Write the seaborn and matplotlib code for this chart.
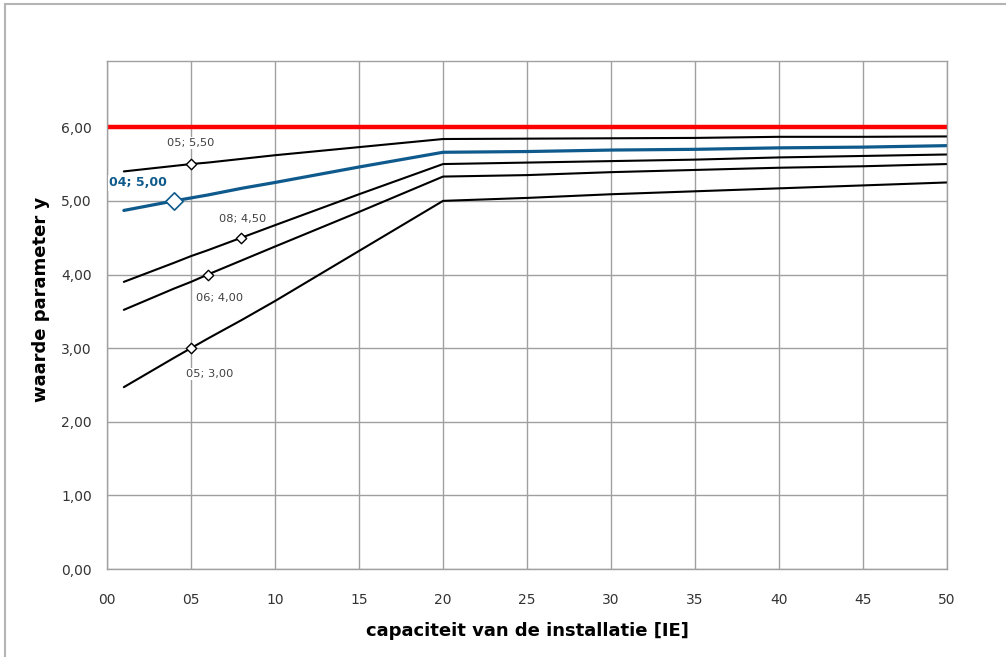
import pandas as pd
import matplotlib
matplotlib.use("Agg")
import matplotlib.pyplot as plt
import seaborn as sns
from matplotlib.lines import Line2D

# capaciteit [IE]
x_vals = [1, 4, 5, 6, 8, 10, 15, 20, 25, 30, 35, 40, 45, 50]

curve_a = [5.40, 5.475, 5.50, 5.52, 5.57, 5.62, 5.73, 5.84, 5.845, 5.85, 5.855, 5.87, 5.87, 5.875]
curve_blue = [4.87, 5.00, 5.04, 5.08, 5.17, 5.25, 5.46, 5.66, 5.67, 5.69, 5.70, 5.72, 5.73, 5.75]
curve_c = [3.90, 4.16, 4.25, 4.33, 4.50, 4.67, 5.09, 5.50, 5.52, 5.54, 5.56, 5.59, 5.61, 5.63]
curve_d = [3.52, 3.81, 3.90, 4.00, 4.19, 4.38, 4.85, 5.33, 5.35, 5.39, 5.42, 5.45, 5.47, 5.50]
curve_e = [2.47, 2.87, 3.00, 3.13, 3.38, 3.64, 4.32, 5.00, 5.04, 5.09, 5.13, 5.17, 5.21, 5.25]

limit_x = [0, 50]
limit_y = [6.0, 6.0]

# gemarkeerde punten: (x, y, label)
marked_black = [(5, 5.50, "05; 5,50"), (8, 4.50, "08; 4,50"),
                (6, 4.00, "06; 4,00"), (5, 3.00, "05; 3,00")]
marked_blue = (4, 5.00, "04; 5,00")

x_ticks = [0, 5, 10, 15, 20, 25, 30, 35, 40, 45, 50]
x_ticklabels = ["00", "05", "10", "15", "20", "25", "30", "35", "40", "45", "50"]
y_ticks = [0, 1, 2, 3, 4, 5, 6]
y_ticklabels = ["0,00", "1,00", "2,00", "3,00", "4,00", "5,00", "6,00"]

BLUE = "#0f5a8c"
GRID = "#a0a0a0"

sns.set_theme(style="whitegrid")
plt.rcParams["font.family"] = ["DejaVu Sans"]

fig = plt.figure(figsize=(10.06, 6.57), dpi=100)
ax = fig.add_axes([0.1064, 0.1339, 0.835, 0.7733])

sns.lineplot(x=limit_x, y=limit_y, color="#ff0000", linewidth=3.2, ax=ax)
for ys in (curve_a, curve_c, curve_d, curve_e):
    sns.lineplot(x=x_vals, y=ys, color="black", linewidth=1.5, ax=ax)
sns.lineplot(x=x_vals, y=curve_blue, color=BLUE, linewidth=2.3, ax=ax)

mb = pd.DataFrame(marked_black, columns=["x", "y", "label"])
sns.scatterplot(data=mb, x="x", y="y", marker="D", s=28, color="white",
                edgecolor="black", linewidth=1.0, zorder=5, ax=ax)
sns.scatterplot(x=[marked_blue[0]], y=[marked_blue[1]], marker="D", s=78, color="white",
                edgecolor=BLUE, linewidth=1.2, zorder=5, ax=ax)

offsets = [(0, 21), (1, 19), (12, -23), (19, -26)]
for (px, py, lab), off in zip(marked_black, offsets):
    ax.annotate(lab, (px, py), xytext=off, textcoords="offset pixels",
                ha="center", va="center", fontsize=8.2, color="#404040",
                bbox=dict(boxstyle="square,pad=0.1", fc="white", ec="none"), zorder=6)
ax.annotate(marked_blue[2], marked_blue[:2], xytext=(-36, 18), textcoords="offset pixels",
            ha="center", va="center", fontsize=9, fontweight="bold", color=BLUE,
            bbox=dict(boxstyle="square,pad=0.1", fc="white", ec="none"),
            zorder=6, annotation_clip=False)

ax.set_xlim(0, 50)
ax.set_ylim(0, 6.9)
ax.set_xticks(x_ticks)
ax.set_xticklabels(x_ticklabels)
ax.set_yticks(y_ticks)
ax.set_yticklabels(y_ticklabels)
ax.tick_params(axis="both", which="both", direction="out", length=5, width=1,
               color=GRID, labelsize=10, labelcolor="#333333", pad=6)
ax.tick_params(axis="x", pad=12)
ax.grid(True, color=GRID, linewidth=1)
for sp in ax.spines.values():
    sp.set_color(GRID)
    sp.set_linewidth(1)
ax.set_axisbelow(True)

ax.set_xlabel("capaciteit van de installatie [IE]", fontsize=13, fontweight="bold", color="black")
ax.set_ylabel("waarde parameter y", fontsize=13, fontweight="bold", color="black")
ax.xaxis.set_label_coords(0.5, -0.105)
ax.yaxis.set_label_coords(-0.068, 0.53)

# buitenkader (alleen boven- en linkerrand zichtbaar)
y_top = (657 - 4) / 657
x_left = 5 / 1006
fig.lines.append(Line2D([x_left, 1.0], [y_top, y_top], transform=fig.transFigure,
                        color="#b4b4b4", linewidth=1.5))
fig.lines.append(Line2D([x_left, x_left], [0.0, y_top], transform=fig.transFigure,
                        color="#b4b4b4", linewidth=1.5))

fig.savefig("out.png", dpi=100)
plt.close(fig)
